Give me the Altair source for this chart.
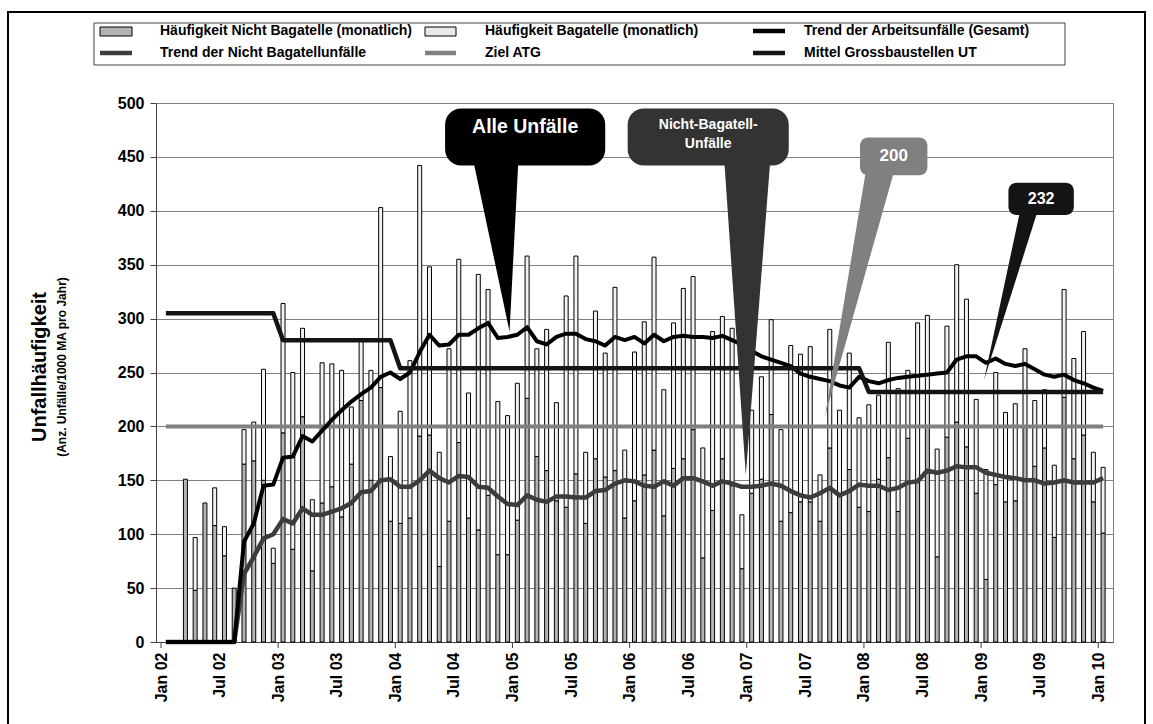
import altair as alt
import pandas as pd

# Month index 0 = Jan 02 ... 96 = Jan 10
months = list(range(97))

# Monthly rates (accidents per 1000 employees per year)
nicht_bagatelle = [0, 0, 151, 48, 129, 108, 80, 50, 165, 168,
                   150, 73, 194, 86, 209, 66, 129, 144, 116, 165,
                   224, 150, 236, 112, 110, 115, 191, 192, 70, 112,
                   185, 115, 104, 136, 81, 81, 113, 226, 172, 159,
                   131, 125, 156, 110, 170, 153, 159, 115, 131, 155,
                   178, 117, 161, 170, 197, 78, 122, 170, 145, 68,
                   138, 151, 211, 112, 120, 130, 130, 112, 180, 136,
                   160, 125, 121, 151, 171, 121, 189, 150, 200, 79,
                   190, 204, 181, 138, 58, 146, 130, 131, 200, 163,
                   180, 97, 227, 170, 192, 130, 101]

bagatelle = [0, 0, 0, 49, 0, 35, 27, 0, 32, 36,
             103, 14, 120, 164, 82, 66, 130, 114, 136, 53,
             55, 102, 167, 60, 104, 146, 251, 156, 106, 160,
             170, 116, 237, 191, 142, 129, 127, 132, 100, 131,
             91, 196, 202, 66, 137, 115, 170, 63, 138, 142,
             179, 117, 135, 158, 142, 102, 166, 132, 146, 50,
             77, 95, 88, 85, 155, 137, 144, 43, 110, 79,
             108, 83, 99, 78, 107, 114, 63, 146, 103, 100,
             103, 146, 137, 87, 102, 104, 83, 90, 72, 61,
             54, 67, 100, 93, 96, 46, 61]

trend_gesamt = [0, 0, 0, 0, 0, 0, 0, 0, 93, 110,
                145, 146, 171, 172, 191, 186, 196, 206, 215, 223,
                230, 236, 246, 250, 244, 250, 269, 285, 275, 276,
                285, 285, 291, 296, 282, 283, 285, 292, 279, 276,
                283, 286, 286, 281, 279, 275, 283, 280, 283, 277,
                285, 279, 283, 284, 283, 283, 282, 284, 280, 276,
                270, 265, 262, 259, 256, 249, 246, 244, 242, 238,
                236, 246, 242, 240, 243, 245, 246, 247, 248, 249,
                250, 262, 265, 265, 259, 263, 258, 256, 258, 253,
                248, 246, 248, 243, 240, 236, 233]

trend_nicht_bagatell = [0, 0, 0, 0, 0, 0, 0, 0, 63, 79,
                        96, 100, 114, 110, 124, 118, 118, 121, 124, 129,
                        139, 140, 150, 151, 144, 144, 150, 159, 152, 148,
                        154, 153, 144, 143, 135, 128, 127, 136, 132, 130,
                        135, 135, 134, 134, 140, 141, 147, 150, 149, 145,
                        144, 149, 145, 152, 152, 149, 145, 149, 147, 144,
                        144, 145, 147, 145, 140, 136, 134, 138, 143, 136,
                        140, 146, 145, 145, 141, 143, 148, 149, 159, 157,
                        159, 163, 162, 162, 157, 155, 153, 152, 150, 150,
                        147, 148, 150, 148, 148, 148, 152]

# Step line "Mittel Grossbaustellen UT" (breakpoints)
mittel_months = [0, 11, 12, 23, 24, 71, 72, 96]
mittel_values = [305, 305, 280, 280, 254, 254, 232, 232]

ziel_atg = 200

tick_labels = ["Jan  02", "Jul  02", "Jan  03", "Jul  03", "Jan  04", "Jul  04",
               "Jan  05", "Jul  05", "Jan  06", "Jul  06", "Jan  07", "Jul  07",
               "Jan  08", "Jul  08", "Jan  09", "Jul  09", "Jan  10"]

FONT = "Liberation Sans"
W, H = 957, 539

df = pd.DataFrame({"k": months, "nb": nicht_bagatelle, "b": bagatelle,
                   "tg": trend_gesamt, "tn": trend_nicht_bagatell})
df["u"] = df["k"] + 0.5
df["top"] = df["nb"] + df["b"]

mdf = pd.DataFrame({"u": [m + 0.5 for m in mittel_months], "v": mittel_values})

XS = alt.Scale(domain=[0, 97], nice=False, zero=False)
YS = alt.Scale(domain=[0, 500], nice=False)

label_expr = "[" + ",".join("'%s'" % t for t in tick_labels) + "][round(datum.value / 6)]"

x_axis = alt.Axis(values=list(range(0, 97, 6)), labelExpr=label_expr, labelAngle=270,
                  labelAlign="right", labelBaseline="middle", labelPadding=10,
                  ticks=False, grid=False, domainColor="#404040", title=None,
                  labelFont=FONT, labelFontWeight="bold", labelFontSize=16,
                  labelColor="black", labelOverlap=False)
y_axis = alt.Axis(values=list(range(0, 501, 50)), grid=True, gridColor="#808080",
                  gridWidth=1, tickSize=6, tickColor="#404040", domainColor="#404040",
                  labelFont=FONT, labelFontWeight="bold", labelFontSize=16,
                  labelColor="black", labelPadding=6, title=None)

base = alt.Chart(df)

nb_bars = base.transform_filter("datum.nb > 0").mark_bar(
    size=4, color="#b3b3b3", stroke="black", strokeWidth=1
).encode(x=alt.X("u:Q", scale=XS, axis=x_axis),
         y=alt.Y("nb:Q", scale=YS, axis=y_axis),
         y2=alt.datum(0))

b_bars = base.transform_filter("datum.b > 0").mark_bar(
    size=4, color="#f2f2f2", stroke="black", strokeWidth=1
).encode(x="u:Q", y="top:Q", y2="nb:Q")

jan_ticks = alt.Chart(pd.DataFrame({"t": list(range(0, 97, 12))})).mark_rule(
    color="#404040", strokeWidth=1
).encode(x="t:Q", y=alt.value(H), y2=alt.value(H + 6))

line_gesamt = base.mark_line(color="#000000", strokeWidth=4, strokeJoin="round").encode(
    x="u:Q", y="tg:Q")
line_nb = base.mark_line(color="#3c3c3c", strokeWidth=4.5, strokeJoin="round").encode(
    x="u:Q", y="tn:Q")
line_ziel = alt.Chart(pd.DataFrame({"a": [0]})).mark_rule(
    color="#808080", strokeWidth=4).encode(
    x=alt.datum(0.5), x2=alt.datum(96.5), y=alt.datum(ziel_atg))
line_mittel = alt.Chart(mdf).mark_line(color="#141414", strokeWidth=4.5, strokeJoin="round").encode(
    x="u:Q", y="v:Q")


def callout(box, tip, color, lines, size, y_text, radius):
    """Rounded box (u0, u1, v0, v1) with a pointer (u_left, u_right, v_base, u_tip, v_tip)."""
    u0, u1, v0, v1 = box
    bl, br, vb, ut, vt = tip
    rect = alt.Chart(pd.DataFrame({"x0": [u0], "x1": [u1], "y0": [v0], "y1": [v1]})).mark_rect(
        color=color, cornerRadius=radius).encode(x="x0:Q", x2="x1:Q", y="y0:Q", y2="y1:Q")
    tri = alt.Chart(pd.DataFrame({"v": [vb, vt], "xl": [bl, ut], "xr": [br, ut]})).mark_area(
        orient="horizontal", color=color).encode(y="v:Q", x="xl:Q", x2="xr:Q")
    cx = (u0 + u1) / 2
    txt = alt.Chart(pd.DataFrame({"u": [cx] * len(lines), "v": y_text, "t": lines})).mark_text(
        color="white", font=FONT, fontWeight="bold", fontSize=size, baseline="middle",
        align="center").encode(x="u:Q", y="v:Q", text="t:N")
    return [rect, tri, txt]


callouts = []
callouts += callout((29.1, 45.5, 442, 495), (32.0, 36.6, 446, 35.7, 288),
                    "#000000", ["Alle Unfälle"], 19.5, [478], 16)
callouts += callout((47.8, 64.3, 442, 495), (57.7, 62.4, 446, 59.9, 155),
                    "#333333", ["Nicht-Bagatell-", "Unfälle"], 14, [480, 462], 16)
callouts += callout((71.6, 78.5, 433, 468), (72.2, 75.1, 437, 68.0, 209),
                    "#808080", ["200"], 17, [451], 8)
callouts += callout((86.8, 93.5, 396, 426), (88.0, 89.8, 400, 84.3, 243),
                    "#141414", ["232"], 16, [411], 8)

# Pixel helpers for items outside the plot area (origin = top-left of plot)
one = pd.DataFrame({"a": [0]})


def px_rect(x0, x1, y0, y1, **kw):
    return alt.Chart(one).mark_rect(**kw).encode(
        x=alt.value(x0), x2=alt.value(x1), y=alt.value(y0), y2=alt.value(y1))


def px_rule(x0, x1, y, color, width):
    return alt.Chart(one).mark_rule(color=color, strokeWidth=width).encode(
        x=alt.value(x0), x2=alt.value(x1), y=alt.value(y))


def px_text(x, y, text, size, angle=0, align="left"):
    return alt.Chart(one).mark_text(text=text, font=FONT, fontWeight="bold", fontSize=size,
                                    color="black", align=align, baseline="middle",
                                    angle=angle).encode(x=alt.value(x), y=alt.value(y))


frame = px_rect(-148, 989, -91, 640, fillOpacity=0, stroke="black", strokeWidth=2)

LEG = 14
legend = [
    px_rect(-62, 909, -80, -38, fill="white", stroke="#404040", strokeWidth=1),
    px_rect(-56, -24, -76, -67, fill="#b3b3b3", stroke="black", strokeWidth=1),
    px_text(4, -72, "Häufigkeit Nicht Bagatelle (monatlich)", LEG),
    px_rect(269, 300, -76, -67, fill="#e8e8e8", stroke="black", strokeWidth=1),
    px_text(329, -72, "Häufigkeit Bagatelle (monatlich)", LEG),
    px_rule(597, 629, -72, "#000000", 4.5),
    px_text(648, -72, "Trend der Arbeitsunfälle (Gesamt)", LEG),
    px_rule(-56, -24, -50, "#3c3c3c", 4.5),
    px_text(4, -50, "Trend der Nicht Bagatellunfälle", LEG),
    px_rule(269, 300, -50, "#808080", 4.5),
    px_text(329, -50, "Ziel ATG", LEG),
    px_rule(597, 629, -50, "#141414", 4.5),
    px_text(648, -50, "Mittel Grossbaustellen UT", LEG),
]

y_titles = [
    px_text(-116, 264, "Unfallhäufigkeit", 20, angle=270, align="center"),
    px_text(-94, 264, "(Anz. Unfälle/1000 MA pro Jahr)", 12, angle=270, align="center"),
]

chart = alt.layer(
    nb_bars, b_bars, jan_ticks, line_ziel, line_nb, line_gesamt, line_mittel,
    *callouts, frame, *legend, *y_titles
).properties(
    width=W, height=H,
    autosize=alt.AutoSizeParams(type="none"),
    padding={"left": 156, "top": 103, "right": 40, "bottom": 82},
    background="white",
).configure_view(stroke="#808080", strokeWidth=1)

chart.save("out.html", embed_options={"renderer": "svg", "actions": False})
